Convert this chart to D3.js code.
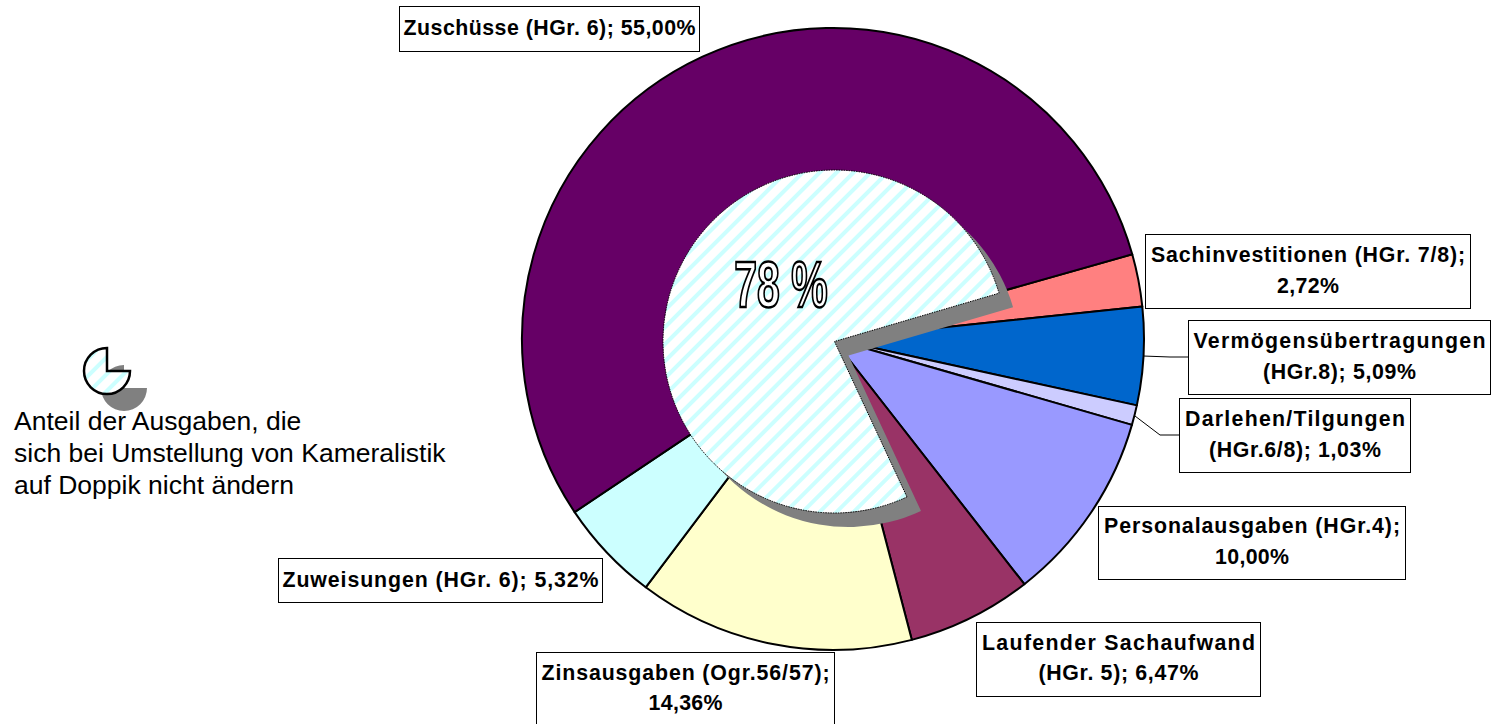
<!DOCTYPE html>
<html>
<head>
<meta charset="utf-8">
<script src="https://cdn.jsdelivr.net/npm/d3@7"></script>
<style>
html, body { margin: 0; padding: 0; background: #fff; overflow: hidden; }
text { font-family: "Liberation Sans", Arial, sans-serif; }
</style>
</head>
<body>
<svg width="1492" height="724"></svg>
<script>
// chart values, clockwise starting with the pink slice
const categories = ["Sachinvestitionen", "Vermögensübertragungen", "Darlehen/Tilgungen", "Personalausgaben", "Laufender Sachaufwand", "Zinsausgaben", "Zuweisungen", "Zuschüsse"];
const shares = [2.72, 5.09, 1.03, 10.00, 6.47, 14.36, 5.32, 55.00];
const colors = ["#ff8080", "#0066cc", "#ccccff", "#9999ff", "#993366", "#ffffcc", "#ccffff", "#660066"];
const labelLines = [
    ["Sachinvestitionen (HGr. 7/8);", "2,72%"],
    ["Vermögensübertragungen", "(HGr.8); 5,09%"],
    ["Darlehen/Tilgungen", "(HGr.6/8); 1,03%"],
    ["Personalausgaben (HGr.4);", "10,00%"],
    ["Laufender Sachaufwand", "(HGr. 5); 6,47%"],
    ["Zinsausgaben (Ogr.56/57);", "14,36%"],
    ["Zuweisungen (HGr. 6); 5,32%"],
    ["Zuschüsse (HGr. 6); 55,00%"]
];
// the drawn wedge measures a bit under the printed 78 %
const unchangedShare = [77.4, 22.6];
const unchangedLabel = "78 %";
const legendLines = ["Anteil der Ausgaben, die", "sich bei Umstellung von Kameralistik", "auf Doppik nicht ändern"];

// label layout: box x0,y0,x1,y1, then baseline and text width per line
const labelBoxes = [
    {box: [1145, 234, 1470, 308], base: [262, 293], len: [314, 62]},
    {box: [1188, 320, 1490, 394], base: [348, 379], len: [292, 153]},
    {box: [1179, 398, 1410, 472], base: [426, 457], len: [220, 172]},
    {box: [1098, 506, 1405, 579], base: [533, 564], len: [296, 74]},
    {box: [976, 622, 1260, 696], base: [650, 680], len: [273, 160]},
    {box: [536, 652, 834, 730], base: [680, 710], len: [288, 74]},
    {box: [278, 558, 602, 602], base: [587], len: [316]},
    {box: [399, 6, 699, 51], base: [35], len: [292]}
];
const leaders = {1: [[1143, 356], [1170, 357], [1188, 357]], 2: [[1135, 416], [1160, 435], [1179, 435]]};

const svg = d3.select("svg");
const toRad = Math.PI / 180;

// diagonal stripes of the inner pie
const pat = svg.append("defs").append("pattern")
    .attr("id", "hatch")
    .attr("patternUnits", "userSpaceOnUse")
    .attr("width", 12).attr("height", 12)
    .attr("patternTransform", "rotate(45)");
pat.append("rect").attr("width", 12).attr("height", 12).attr("fill", "#fff");
pat.append("rect").attr("width", 4).attr("height", 12).attr("fill", "#ccffff");

// outer pie
const outerPie = d3.pie().sort(null).startAngle(74.2 * toRad).endAngle(434.2 * toRad);
const outerArc = d3.arc().innerRadius(0).outerRadius(311);
svg.append("g")
    .attr("transform", "translate(833,339)")
    .selectAll("path")
    .data(outerPie(shares))
    .enter()
    .append("path")
    .attr("d", outerArc)
    .attr("fill", function(d, i) { return colors[i]; })
    .attr("stroke", "#000")
    .attr("stroke-width", 2)
    .attr("stroke-linejoin", "round");

// inner pie with its shadow
const innerPie = d3.pie().sort(null).startAngle(155 * toRad).endAngle(515 * toRad);
const innerArc = d3.arc().innerRadius(0).outerRadius(171.5);
const innerSlice = innerPie(unchangedShare)[0];
svg.append("path")
    .attr("transform", "translate(848.5,355.5)")
    .attr("d", innerArc(innerSlice))
    .attr("fill", "#808080");
svg.append("path")
    .attr("transform", "translate(834.5,341.5)")
    .attr("d", innerArc(innerSlice))
    .attr("fill", "url(#hatch)")
    .attr("stroke", "#000")
    .attr("stroke-width", 1)
    .attr("stroke-dasharray", "1.5,1");

// outlined 78 %
svg.append("text")
    .attr("transform", "translate(781,307) scale(0.64,1)")
    .attr("text-anchor", "middle")
    .attr("font-size", 64)
    .attr("font-weight", "bold")
    .attr("fill", "#fff")
    .attr("stroke", "#000")
    .attr("stroke-width", 2.5)
    .text(unchangedLabel);

// leader lines
const line = d3.line();
Object.keys(leaders).forEach(function(k) {
    svg.append("path")
        .attr("d", line(leaders[k]))
        .attr("fill", "none")
        .attr("stroke", "#000")
        .attr("stroke-width", 1);
});

// label boxes
labelLines.forEach(function(lines, i) {
    const l = labelBoxes[i];
    svg.append("rect")
        .attr("x", l.box[0] + 0.5).attr("y", l.box[1] + 0.5)
        .attr("width", l.box[2] - l.box[0]).attr("height", l.box[3] - l.box[1])
        .attr("fill", "#fff")
        .attr("stroke", "#000")
        .attr("stroke-width", 1);
    lines.forEach(function(t, j) {
        svg.append("text")
            .attr("x", (l.box[0] + l.box[2]) / 2 + 0.5)
            .attr("y", l.base[j])
            .attr("text-anchor", "middle")
            .attr("font-size", 21.33)
            .attr("font-weight", "bold")
            .attr("textLength", l.len[j])
            .attr("lengthAdjust", "spacing")
            .text(t);
    });
});

// legend icon
const iconPie = d3.pie().sort(null).startAngle(90 * toRad).endAngle(450 * toRad);
const iconArc = d3.arc().innerRadius(0).outerRadius(23);
const iconSlice = iconPie([75, 25])[0];
svg.append("path")
    .attr("transform", "translate(124,388)")
    .attr("d", iconArc(iconSlice))
    .attr("fill", "#808080");
svg.append("path")
    .attr("transform", "translate(107,371)")
    .attr("d", iconArc(iconSlice))
    .attr("fill", "url(#hatch)")
    .attr("stroke", "#000")
    .attr("stroke-width", 2.5);

// legend text
svg.selectAll("text.legend")
    .data(legendLines)
    .enter()
    .append("text")
    .attr("class", "legend")
    .attr("x", 14)
    .attr("y", function(d, i) { return 430 + i * 32; })
    .attr("font-size", 26.5)
    .text(function(d) { return d; });
</script>
</body>
</html>
